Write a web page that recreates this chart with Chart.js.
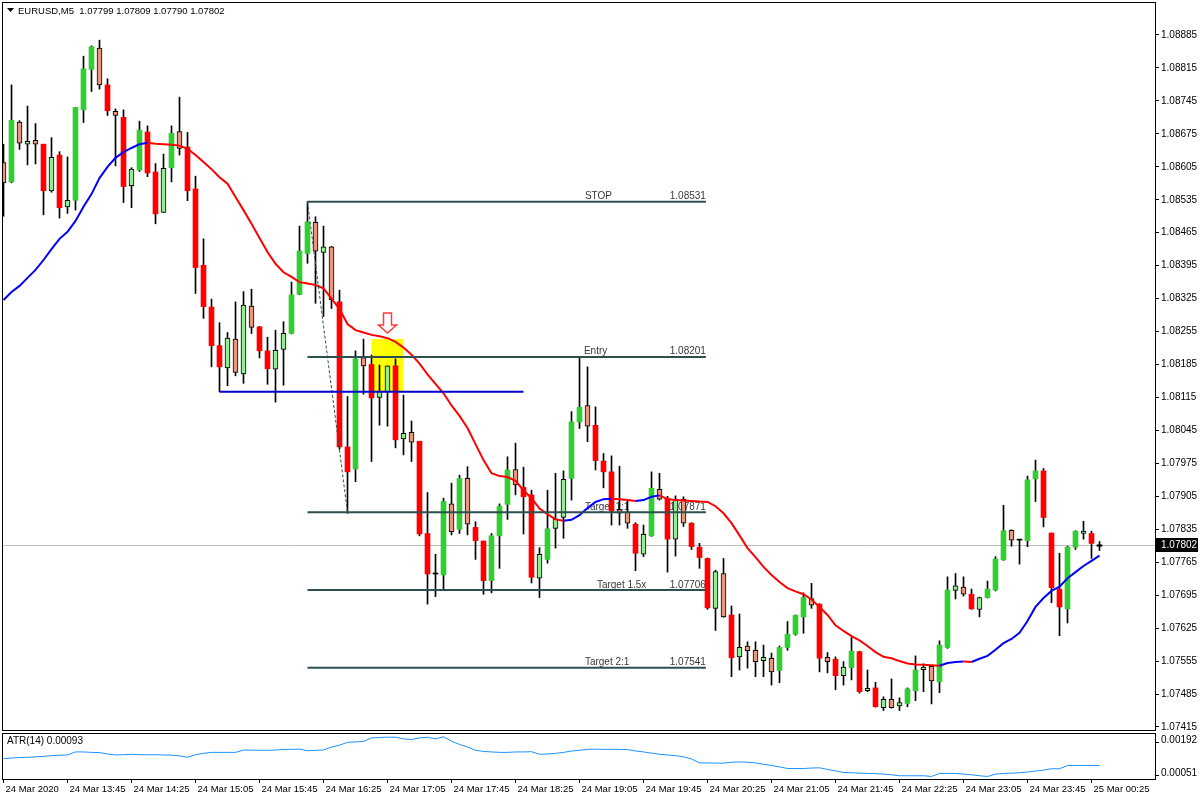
<!DOCTYPE html>
<html>
<head>
<meta charset="utf-8">
<script src="https://cdn.jsdelivr.net/npm/chart.js@4.4.1/dist/chart.umd.min.js"></script>
<style>
html, body { margin: 0; padding: 0; background: #fff; }
#wrap { position: relative; width: 1200px; height: 800px; overflow: hidden; }
#mainChart { position: absolute; left: 0; top: 0; }
#atrChart { position: absolute; left: 0; top: 731px; }
</style>
</head>
<body>
<div id="wrap">
  <canvas id="mainChart" width="1200" height="740"></canvas>
  <canvas id="atrChart" width="1200" height="69"></canvas>
</div>
<script>
// EURUSD M5 candles, 13:05 -> 00:30 (index = bar number)
const opens = [
  1.08614,1.08573,1.08700,1.08653,1.08661,1.08653,1.08554,1.08630,1.08520,1.08534,
  1.08726,1.08812,1.08857,1.08779,1.08723,1.08710,1.08565,1.08598,1.08679,1.08594,
  1.08508,1.08603,1.08680,1.08647,1.08558,1.08396,1.08307,1.08225,1.08178,1.08239,
  1.08165,1.08309,1.08265,1.08214,1.08175,1.08217,1.08251,1.08334,1.08421,1.08487,
  1.08423,1.08435,1.08318,1.08010,1.07963,1.08200,1.08185,1.08115,1.08127,1.08182,
  1.08027,1.08041,1.08022,1.07826,1.07740,1.07738,1.07889,1.07835,1.07943,1.07839,
  1.07810,1.07726,1.07821,1.07888,1.07962,1.07924,1.07908,1.07731,1.07771,1.07837,
  1.07860,1.07943,1.08063,1.08098,1.08056,1.07980,1.07957,1.07877,1.07872,1.07846,
  1.07782,1.07821,1.07920,1.07901,1.07814,1.07899,1.07848,1.07797,1.07773,1.07667,
  1.07741,1.07653,1.07564,1.07587,1.07578,1.07556,1.07561,1.07535,1.07584,1.07612,
  1.07649,1.07688,1.07676,1.07563,1.07559,1.07524,1.07541,1.07575,1.07492,1.07498,
  1.07456,1.07474,1.07460,1.07465,1.07492,1.07537,1.07544,1.07511,1.07584,1.07705,
  1.07712,1.07697,1.07665,1.07690,1.07706,1.07770,1.07833,1.07812,1.07811,1.07942,
  1.07959,1.07827,1.07708,1.07666,1.07797,1.07826,1.07826,1.07799
];
const highs = [
  1.08653,1.08779,1.08703,1.08734,1.08697,1.08653,1.08667,1.08637,1.08626,1.08731,
  1.08840,1.08862,1.08874,1.08792,1.08728,1.08726,1.08603,1.08702,1.08692,1.08612,
  1.08632,1.08692,1.08753,1.08678,1.08585,1.08452,1.08324,1.08274,1.08253,1.08318,
  1.08340,1.08345,1.08266,1.08243,1.08258,1.08276,1.08360,1.08479,1.08531,1.08499,
  1.08479,1.08436,1.08343,1.08117,1.08214,1.08239,1.08205,1.08184,1.08182,1.08197,
  1.08120,1.08065,1.08022,1.07913,1.07782,1.07901,1.07933,1.07950,1.07968,1.07851,
  1.07810,1.07826,1.07889,1.07989,1.08018,1.07967,1.07918,1.07796,1.07918,1.07954,
  1.07959,1.08085,1.08200,1.08180,1.08095,1.07996,1.07991,1.07969,1.07897,1.07849,
  1.07844,1.07957,1.07954,1.07905,1.07906,1.07904,1.07849,1.07805,1.07774,1.07748,
  1.07773,1.07672,1.07655,1.07596,1.07596,1.07589,1.07572,1.07587,1.07639,1.07653,
  1.07700,1.07720,1.07677,1.07573,1.07564,1.07554,1.07605,1.07576,1.07536,1.07510,
  1.07479,1.07517,1.07477,1.07498,1.07566,1.07549,1.07545,1.07598,1.07734,1.07741,
  1.07734,1.07708,1.07691,1.07725,1.07777,1.07886,1.07834,1.07812,1.07948,1.07982,
  1.07964,1.07827,1.07784,1.07799,1.07832,1.07852,1.07831,1.07809
];
const lows = [
  1.08500,1.08571,1.08642,1.08609,1.08611,1.08503,1.08551,1.08496,1.08506,1.08513,
  1.08699,1.08765,1.08770,1.08714,1.08607,1.08529,1.08518,1.08595,1.08584,1.08484,
  1.08508,1.08573,1.08630,1.08533,1.08336,1.08283,1.08180,1.08127,1.08140,1.08161,
  1.08145,1.08251,1.08199,1.08143,1.08105,1.08141,1.08250,1.08333,1.08400,1.08315,
  1.08287,1.08304,1.08005,1.07869,1.07936,1.08122,1.07979,1.08056,1.08054,1.08008,
  1.07993,1.07979,1.07821,1.07676,1.07692,1.07707,1.07823,1.07826,1.07823,1.07771,
  1.07697,1.07700,1.07752,1.07856,1.07908,1.07825,1.07721,1.07690,1.07763,1.07795,
  1.07816,1.07897,1.08049,1.08021,1.07961,1.07923,1.07844,1.07844,1.07837,1.07747,
  1.07777,1.07820,1.07897,1.07744,1.07778,1.07841,1.07792,1.07752,1.07665,1.07620,
  1.07648,1.07522,1.07536,1.07540,1.07522,1.07522,1.07504,1.07509,1.07578,1.07610,
  1.07614,1.07667,1.07532,1.07530,1.07494,1.07504,1.07515,1.07487,1.07490,1.07457,
  1.07450,1.07455,1.07450,1.07458,1.07471,1.07490,1.07464,1.07488,1.07582,1.07687,
  1.07693,1.07665,1.07649,1.07689,1.07704,1.07769,1.07799,1.07761,1.07798,1.07894,
  1.07840,1.07679,1.07609,1.07636,1.07792,1.07814,1.07773,1.07790
];
const closes = [
  1.08571,1.08704,1.08655,1.08659,1.08653,1.08554,1.08625,1.08518,1.08534,1.08731,
  1.08813,1.08860,1.08779,1.08724,1.08714,1.08563,1.08600,1.08683,1.08592,1.08505,
  1.08602,1.08676,1.08644,1.08554,1.08391,1.08308,1.08225,1.08180,1.08241,1.08168,
  1.08311,1.08264,1.08214,1.08176,1.08215,1.08251,1.08333,1.08426,1.08488,1.08426,
  1.08435,1.08322,1.08010,1.07957,1.08197,1.08182,1.08114,1.08128,1.08182,1.08025,
  1.08039,1.08020,1.07825,1.07740,1.07740,1.07894,1.07830,1.07943,1.07846,1.07811,
  1.07726,1.07821,1.07884,1.07961,1.07929,1.07904,1.07733,1.07782,1.07836,1.07857,
  1.07941,1.08063,1.08094,1.08054,1.07981,1.07957,1.07874,1.07869,1.07848,1.07784,
  1.07824,1.07922,1.07899,1.07814,1.07899,1.07848,1.07798,1.07775,1.07668,1.07745,
  1.07649,1.07562,1.07584,1.07577,1.07554,1.07563,1.07532,1.07584,1.07612,1.07652,
  1.07690,1.07674,1.07561,1.07554,1.07524,1.07542,1.07576,1.07490,1.07497,1.07458,
  1.07474,1.07456,1.07467,1.07496,1.07536,1.07542,1.07513,1.07589,1.07706,1.07715,
  1.07697,1.07666,1.07690,1.07708,1.07772,1.07832,1.07812,1.07812,1.07940,1.07959,
  1.07860,1.07711,1.07670,1.07797,1.07831,1.07831,1.07805,1.07802
];
// candle style: G strong bull, g weak bull, R strong bear, r weak bear, d doji
const candleTypes = (
  'rGrgrRgRgG' + 'GGrRrRgGRR' + 'gGrRRRRRgr' + 'grRRggGGGr' + 'grRRGrRggR' +
  'grRRdGrGrR' + 'RGGGrRRgGg' + 'gGGrRRRrrR' + 'gGrRgrRRRg' + 'rRgrrgrGGG' +
  'GrRrRgGRgR' + 'grgGGgrGGg' + 'rRgGGGrdGG' + 'RRRGGgRd'
).split('');

// moving average (blue when rising, red otherwise)
const maValues = [
  1.08322,1.08339,1.08352,1.08369,1.08386,1.08407,1.08430,1.08452,1.08467,1.08490,
  1.08520,1.08547,1.08581,1.08605,1.08624,1.08636,1.08645,1.08653,1.08656,1.08654,
  1.08653,1.08652,1.08650,1.08643,1.08630,1.08615,1.08600,1.08583,1.08569,1.08541,
  1.08513,1.08484,1.08454,1.08424,1.08399,1.08381,1.08371,1.08360,1.08357,1.08354,
  1.08347,1.08325,1.08303,1.08271,1.08258,1.08253,1.08248,1.08245,1.08241,1.08233,
  1.08221,1.08206,1.08187,1.08164,1.08144,1.08124,1.08098,1.08076,1.08050,1.08016,
  1.07982,1.07954,1.07948,1.07946,1.07938,1.07918,1.07901,1.07879,1.07867,1.07856,
  1.07853,1.07855,1.07865,1.07880,1.07893,1.07899,1.07900,1.07899,1.07897,1.07895,
  1.07897,1.07904,1.07907,1.07899,1.07897,1.07896,1.07895,1.07894,1.07893,1.07884,
  1.07869,1.07848,1.07822,1.07795,1.07776,1.07755,1.07738,1.07723,1.07710,1.07703,
  1.07697,1.07686,1.07670,1.07653,1.07631,1.07619,1.07608,1.07599,1.07587,1.07574,
  1.07564,1.07561,1.07555,1.07550,1.07548,1.07547,1.07546,1.07545,1.07551,1.07553,
  1.07554,1.07553,1.07560,1.07566,1.07579,1.07593,1.07602,1.07615,1.07640,1.07670,
  1.07689,1.07704,1.07713,1.07731,1.07744,1.07757,1.07768,1.07779
];

// ATR(14)
const atrValues = [
  0.00122,0.00125,0.00127,0.00128,0.00130,0.00132,0.00135,0.00137,0.00138,0.00151,
  0.00151,0.00149,0.00148,0.00142,0.00138,0.00139,0.00141,0.00139,0.00139,0.00139,
  0.00138,0.00137,0.00134,0.00128,0.00139,0.00145,0.00149,0.00149,0.00149,0.00149,
  0.00159,0.00159,0.00158,0.00158,0.00159,0.00162,0.00162,0.00163,0.00156,0.00158,
  0.00159,0.00172,0.00180,0.00192,0.00194,0.00196,0.00211,0.00213,0.00214,0.00214,
  0.00207,0.00204,0.00211,0.00214,0.00207,0.00216,0.00197,0.00183,0.00172,0.00158,
  0.00153,0.00151,0.00149,0.00149,0.00151,0.00151,0.00152,0.00141,0.00142,0.00145,
  0.00149,0.00155,0.00158,0.00162,0.00163,0.00162,0.00162,0.00162,0.00161,0.00155,
  0.00151,0.00146,0.00141,0.00138,0.00135,0.00130,0.00121,0.00104,0.00104,0.00103,
  0.00103,0.00107,0.00108,0.00107,0.00104,0.00098,0.00093,0.00087,0.00080,0.00080,
  0.00080,0.00082,0.00083,0.00076,0.00070,0.00063,0.00062,0.00060,0.00059,0.00058,
  0.00056,0.00053,0.00049,0.00049,0.00049,0.00049,0.00046,0.00059,0.00059,0.00059,
  0.00056,0.00053,0.00049,0.00046,0.00056,0.00059,0.00060,0.00062,0.00065,0.00069,
  0.00073,0.00079,0.00079,0.00093,0.00093,0.00093,0.00093,0.00093
];

// axes
const timeTickBars = [0, 8, 16, 24, 32, 40, 48, 56, 64, 72, 80, 88, 96, 104, 112, 120, 128, 136];
const timeLabels = ['24 Mar 2020', '24 Mar 13:45', '24 Mar 14:25', '24 Mar 15:05', '24 Mar 15:45',
  '24 Mar 16:25', '24 Mar 17:05', '24 Mar 17:45', '24 Mar 18:25', '24 Mar 19:05', '24 Mar 19:45',
  '24 Mar 20:25', '24 Mar 21:05', '24 Mar 21:45', '24 Mar 22:25', '24 Mar 23:05', '24 Mar 23:45',
  '25 Mar 00:25'];
const priceTicks = [1.07415, 1.07485, 1.07555, 1.07625, 1.07695, 1.07765, 1.07835, 1.07905,
  1.07975, 1.08045, 1.08115, 1.08185, 1.08255, 1.08325, 1.08395, 1.08465, 1.08535, 1.08605,
  1.08675, 1.08745, 1.08815, 1.08885];
const atrTicks = [0.00192, 0.00051];
const xMin = -0.1875, xMax = 143.9375;
const priceMin = 1.074086, priceMax = 1.089551;
const atrMin = 0.000351, atrMax = 0.00232;

// trade objects
const levelNames = ['STOP', 'Entry', 'Target 1:1', 'Target 1.5x', 'Target 2:1'];
const levelPrices = [1.08531, 1.08201, 1.07871, 1.07706, 1.07541];
const levelBars = [38, 87.8];
const supportBars = [27, 65];
const supportPrice = 1.08127;
const trendBars = [38, 43];
const trendPrices = [1.08531, 1.07871];
const boxBars = [46, 50];
const boxPrices = [1.08239, 1.08127];
const arrowBar = 48, arrowPrice = 1.08252;
const lastPrice = 1.07802;
const title = 'EURUSD,M5  1.07799 1.07809 1.07790 1.07802';

Chart.defaults.font.family = '"Liberation Sans", Arial, sans-serif';
Chart.defaults.font.size = 10;
Chart.defaults.color = '#000';

const bodyFill = { G: '#32cd32', g: '#90ee90', R: '#ff0000', r: '#e9967a', d: '#000000' };
const nameOffsets = [121, 122, 121, 109, 121];

const datasets = [
  {
    type: 'line', data: maValues.map((v, i) => ({ x: i, y: v })),
    borderColor: '#ff0000', borderWidth: 2, pointRadius: 0, tension: 0, order: 0,
    segment: { borderColor: c => c.p1.parsed.y > c.p0.parsed.y ? '#0000ff' : '#ff0000' }
  },
  {
    type: 'bar', data: opens.map((o, i) => ({ x: i, y: [o, closes[i]] })),
    backgroundColor: candleTypes.map(t => bodyFill[t]),
    borderColor: '#000',
    borderWidth: candleTypes.map(t => (t === 'g' || t === 'r') ? 1 : 0),
    borderSkipped: false, barThickness: 5, minBarLength: 1, grouped: false, order: 1
  },
  {
    type: 'bar', data: lows.map((l, i) => ({ x: i, y: [l, highs[i]] })),
    backgroundColor: '#000', barThickness: 1, minBarLength: 1, grouped: false, order: 2
  },
  {
    type: 'line', data: [{ x: supportBars[0], y: supportPrice }, { x: supportBars[1], y: supportPrice }],
    borderColor: '#0000cd', borderWidth: 2, pointRadius: 0, order: -1
  },
  {
    type: 'line', data: [{ x: trendBars[0], y: trendPrices[0] }, { x: trendBars[1], y: trendPrices[1] }],
    borderColor: '#2f4f4f', borderWidth: 1, borderDash: [3, 2], pointRadius: 0, order: -1
  }
];
levelPrices.forEach(p => {
  datasets.push({
    type: 'line', data: [{ x: levelBars[0], y: p }, { x: levelBars[1], y: p }],
    borderColor: '#2f4f4f', borderWidth: 2, pointRadius: 0, order: -1
  });
});

// extra drawing: box, price line, level texts, arrow, frame, title
const tradePlugin = {
  id: 'tradePlugin',
  beforeDatasetsDraw(chart) {
    const { ctx, chartArea, scales: { x, y } } = chart;
    ctx.save();
    const py = Math.round(y.getPixelForValue(lastPrice)) + 0.5;
    ctx.strokeStyle = '#c0c0c0';
    ctx.lineWidth = 1;
    ctx.beginPath();
    ctx.moveTo(chartArea.left, py);
    ctx.lineTo(chartArea.right, py);
    ctx.stroke();

    const bx0 = x.getPixelForValue(boxBars[0]), bx1 = x.getPixelForValue(boxBars[1]);
    const by0 = y.getPixelForValue(boxPrices[0]), by1 = y.getPixelForValue(boxPrices[1]);
    ctx.fillStyle = '#ffff00';
    ctx.fillRect(bx0, by0, bx1 - bx0, by1 - by0);

    ctx.font = '10px "Liberation Sans", Arial, sans-serif';
    ctx.fillStyle = '#383838';
    ctx.textBaseline = 'alphabetic';
    const xe = x.getPixelForValue(levelBars[1]);
    levelNames.forEach((name, i) => {
      const ly = y.getPixelForValue(levelPrices[i]) - 2.5;
      ctx.textAlign = 'left';
      ctx.fillText(name, xe - nameOffsets[i], ly);
      ctx.textAlign = 'right';
      ctx.fillText(levelPrices[i].toFixed(5), xe, ly);
    });
    ctx.restore();
  },
  afterDraw(chart) {
    const { ctx, chartArea, scales: { x, y } } = chart;
    ctx.save();
    // arrow
    const ax = x.getPixelForValue(arrowBar), ay = y.getPixelForValue(arrowPrice);
    ctx.beginPath();
    ctx.moveTo(ax - 4, ay - 20);
    ctx.lineTo(ax + 4, ay - 20);
    ctx.lineTo(ax + 4, ay - 8);
    ctx.lineTo(ax + 9, ay - 8);
    ctx.lineTo(ax, ay);
    ctx.lineTo(ax - 9, ay - 8);
    ctx.lineTo(ax - 4, ay - 8);
    ctx.closePath();
    ctx.fillStyle = '#ffffff';
    ctx.fill();
    ctx.strokeStyle = '#ff3b3b';
    ctx.lineWidth = 1.5;
    ctx.stroke();

    // frame
    ctx.strokeStyle = '#000';
    ctx.lineWidth = 1;
    ctx.strokeRect(chartArea.left + 0.5, chartArea.top + 0.5, chartArea.right - chartArea.left, chartArea.bottom - chartArea.top);

    // last price label
    const py = y.getPixelForValue(lastPrice);
    ctx.fillStyle = '#000';
    ctx.fillRect(chartArea.right + 1, Math.round(py) - 7, 42, 14);
    ctx.fillStyle = '#fff';
    ctx.font = '10px "Liberation Sans", Arial, sans-serif';
    ctx.textAlign = 'left';
    ctx.textBaseline = 'middle';
    ctx.fillText(lastPrice.toFixed(5), chartArea.right + 6, Math.round(py) + 0.5);

    // title
    ctx.fillStyle = '#000';
    ctx.beginPath();
    ctx.moveTo(7, 8);
    ctx.lineTo(14, 8);
    ctx.lineTo(10.5, 12);
    ctx.closePath();
    ctx.fill();
    ctx.font = '9.5px "Liberation Sans", Arial, sans-serif';
    ctx.fillText(title, 18, 11);
    ctx.restore();
  }
};

const sideAxis = (min, max, ticks, labelOffset) => ({
  position: 'right', min: min, max: max,
  grid: { drawOnChartArea: false, drawTicks: true, tickLength: 4, color: '#000' },
  border: { display: false },
  ticks: { autoSkip: false, padding: 2, labelOffset: labelOffset, callback: v => v.toFixed(5) },
  afterBuildTicks: s => { s.ticks = ticks.map(v => ({ value: v })); },
  afterFit: s => { s.width = 45; s.paddingTop = 0; s.paddingBottom = 0; }
});

new Chart(document.getElementById('mainChart'), {
  type: 'bar',
  data: { datasets: datasets },
  options: {
    responsive: false, animation: false, devicePixelRatio: 1,
    layout: { padding: { left: 2, top: 2, right: 0, bottom: 10 } },
    plugins: { legend: { display: false }, tooltip: { enabled: false } },
    scales: {
      x: { type: 'linear', min: xMin, max: xMax, offset: false, display: false },
      y: sideAxis(priceMin, priceMax, priceTicks, 0)
    }
  },
  plugins: [tradePlugin]
});

const atrPlugin = {
  id: 'atrPlugin',
  afterDraw(chart) {
    const { ctx, chartArea } = chart;
    ctx.save();
    ctx.strokeStyle = '#000';
    ctx.lineWidth = 1;
    ctx.strokeRect(chartArea.left + 0.5, chartArea.top + 0.5, chartArea.right - chartArea.left, chartArea.bottom - chartArea.top);
    ctx.fillStyle = '#000';
    ctx.font = '10px "Liberation Sans", Arial, sans-serif';
    ctx.textAlign = 'left';
    ctx.textBaseline = 'middle';
    ctx.fillText('ATR(14) ' + atrValues[atrValues.length - 1].toFixed(5), 7, chartArea.top + 8);
    ctx.restore();
  }
};

new Chart(document.getElementById('atrChart'), {
  type: 'line',
  data: {
    datasets: [{
      data: atrValues.map((v, i) => ({ x: i, y: v })),
      borderColor: '#1e90ff', borderWidth: 1, pointRadius: 0, tension: 0
    }]
  },
  options: {
    responsive: false, animation: false, devicePixelRatio: 1,
    layout: { padding: { left: 2, top: 2, right: 0, bottom: 0 } },
    plugins: { legend: { display: false }, tooltip: { enabled: false } },
    scales: {
      x: {
        type: 'linear', min: xMin, max: xMax, offset: false,
        grid: { drawOnChartArea: false, drawTicks: true, tickLength: 4, color: '#000' },
        border: { display: false },
        ticks: { autoSkip: false, maxRotation: 0, minRotation: 0, align: 'start', padding: 1, labelOffset: 2,
          font: { size: 9.5 }, callback: (v, i) => timeLabels[i] },
        afterBuildTicks: s => { s.ticks = timeTickBars.map(v => ({ value: v })); },
        afterFit: s => { s.height = 21; s.paddingLeft = 0; s.paddingRight = 0; }
      },
      y: sideAxis(atrMin, atrMax, atrTicks, -2)
    }
  },
  plugins: [atrPlugin]
});
</script>
</body>
</html>
